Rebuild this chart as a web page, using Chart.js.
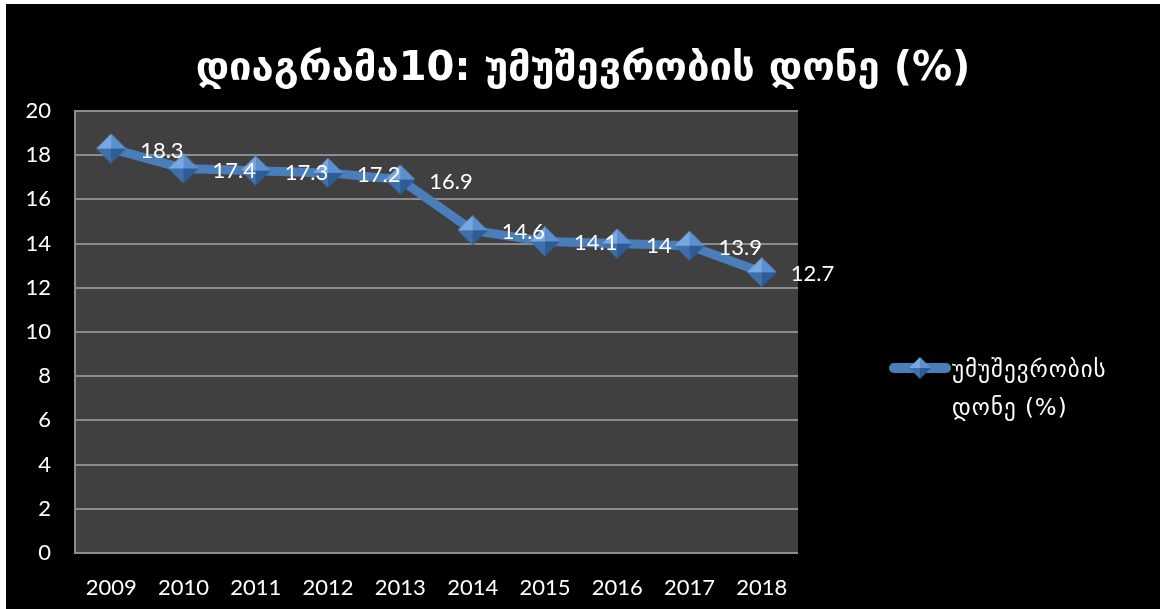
<!DOCTYPE html>
<html>
<head>
<meta charset="utf-8">
<script src="https://cdn.jsdelivr.net/npm/chart.js@4"></script>
<style>
  html, body { margin: 0; padding: 0; background: #fff; }
  body { padding: 4px 0 0 6px; width: 1160px; height: 609px; box-sizing: border-box; overflow: hidden; }
  #wrap { width: 1154px; height: 605px; background: #000; }
</style>
</head>
<body>
<div id="wrap"><canvas id="myChart" width="1154" height="605"></canvas></div>
<script>
// Chart data
const years = ['2009', '2010', '2011', '2012', '2013', '2014', '2015', '2016', '2017', '2018'];
const unemployment = [18.3, 17.4, 17.3, 17.2, 16.9, 14.6, 14.1, 14, 13.9, 12.7];
const yTicks = [0, 2, 4, 6, 8, 10, 12, 14, 16, 18, 20];
const titleText = 'დიაგრამა10: უმუშევრობის დონე (%)';
const seriesName = ['უმუშევრობის', 'დონე (%)'];

const lineColor = '#4a7ebb';
const numFont = "Lato, 'DejaVu Sans', sans-serif";

// Shaded diamond used as point marker
function makeDiamond(r) {
    const c = document.createElement('canvas');
    c.width = c.height = r * 2;
    const g = c.getContext('2d');
    const faces = [
        [[0, r], [r, 0], [r, r], '#79a7df'],
        [[r, 0], [2 * r, r], [r, r], '#5b8fd0'],
        [[2 * r, r], [r, 2 * r], [r, r], '#2d5c97'],
        [[r, 2 * r], [0, r], [r, r], '#3e70ae']
    ];
    faces.forEach(f => {
        g.beginPath();
        g.moveTo(f[0][0], f[0][1]);
        g.lineTo(f[1][0], f[1][1]);
        g.lineTo(f[2][0], f[2][1]);
        g.closePath();
        g.fillStyle = f[3];
        g.fill();
    });
    return c;
}
const diamond = makeDiamond(15);

// Plot background + title + labels + legend
const decor = {
    id: 'decor',
    beforeDraw(chart) {
        const { ctx, chartArea: a } = chart;
        ctx.save();
        ctx.fillStyle = '#404040';
        ctx.fillRect(a.left, a.top, a.right - a.left, a.bottom - a.top);
        ctx.restore();
    },
    afterDraw(chart) {
        const ctx = chart.ctx;
        ctx.save();
        // title
        let size = 44;
        ctx.font = 'bold ' + size + "px 'DejaVu Sans', sans-serif";
        const w = ctx.measureText(titleText).width;
        size = size * 775 / w;
        ctx.font = 'bold ' + size + "px 'DejaVu Sans', sans-serif";
        ctx.fillStyle = '#fff';
        ctx.textAlign = 'center';
        ctx.textBaseline = 'middle';
        ctx.fillText(titleText, 577, 66);

        // data labels
        const meta = chart.getDatasetMeta(0);
        ctx.font = '22px ' + numFont;
        ctx.textAlign = 'left';
        meta.data.forEach((pt, i) => {
            ctx.fillText(String(unemployment[i]), pt.x + 29, pt.y + 2);
        });

        // legend
        ctx.strokeStyle = lineColor;
        ctx.lineWidth = 10;
        ctx.lineCap = 'round';
        ctx.beginPath();
        ctx.moveTo(888, 364);
        ctx.lineTo(940, 364);
        ctx.stroke();
        ctx.drawImage(diamond, 914 - 11, 364 - 11, 22, 22);
        ctx.font = "23px 'DejaVu Sans', sans-serif";
        ctx.fillStyle = '#fff';
        ctx.letterSpacing = '1px';
        ctx.fillText(seriesName[0], 946, 367);
        ctx.fillText(seriesName[1], 946, 405);
        ctx.restore();
    }
};

const ctx = document.getElementById('myChart');

new Chart(ctx, {
    type: 'line',
    data: {
        labels: years,
        datasets: [{
            label: seriesName.join(' '),
            data: unemployment,
            borderColor: lineColor,
            borderWidth: 9,
            pointStyle: diamond,
            pointRadius: 15,
            pointHoverRadius: 15,
            tension: 0
        }]
    },
    options: {
        responsive: false,
        animation: false,
        layout: { padding: { top: 107, right: 362, left: 0, bottom: 0 } },
        plugins: {
            legend: { display: false },
            tooltip: { enabled: false }
        },
        scales: {
            x: {
                offset: true,
                grid: { display: false, drawTicks: false },
                border: { display: false },
                ticks: { color: '#fff', font: { size: 22, family: numFont }, padding: 22, maxRotation: 0 },
                afterFit: s => { s.height = 56; }
            },
            y: {
                min: 0,
                max: 20,
                afterBuildTicks: s => { s.ticks = yTicks.map(v => ({ value: v })); },
                grid: { color: '#8c8c8c', lineWidth: 2, drawTicks: false },
                border: { display: true, color: '#8c8c8c', width: 2 },
                ticks: { color: '#fff', font: { size: 22, family: numFont }, padding: 24 },
                afterFit: s => { s.width = 69; }
            }
        }
    },
    plugins: [decor]
});
</script>
</body>
</html>
